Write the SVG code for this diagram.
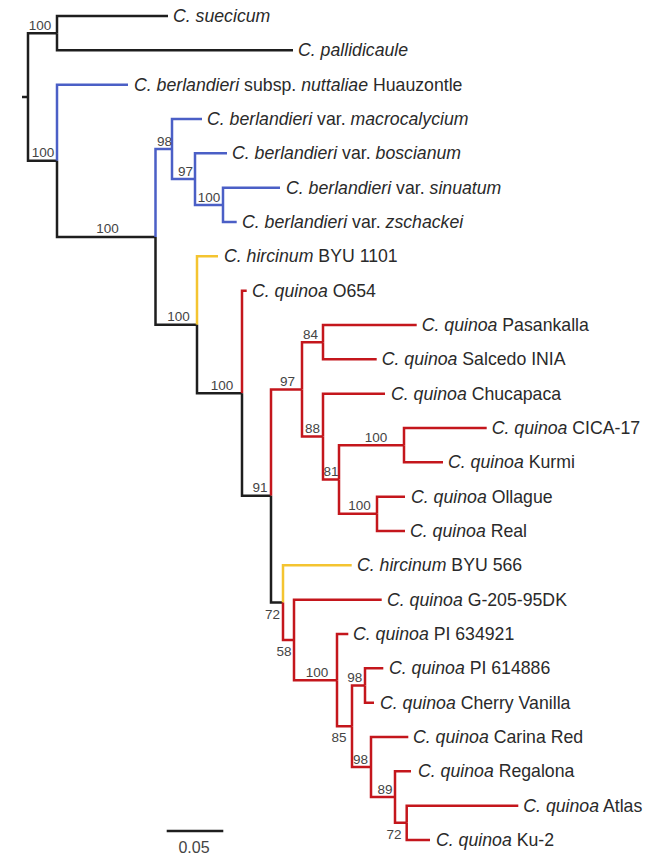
<svg xmlns="http://www.w3.org/2000/svg" width="648" height="864" viewBox="0 0 648 864">
<style>
.b{fill:none;stroke-width:2.5;stroke-linejoin:miter}
.k{stroke:#1e1e1e}.u{stroke:#4b5fc6}.y{stroke:#f4c430}.r{stroke:#c4161c}
.t{font-family:"Liberation Sans",Arial,Helvetica,sans-serif;font-size:17.7px;fill:#2a2a2a}
.bs{font-family:"Liberation Sans",Arial,Helvetica,sans-serif;font-size:13.5px;fill:#444;text-anchor:middle}
</style>
<rect width="648" height="864" fill="#fff"/>
<g id="connectors">
<path class="b k" d="M22,97H28"/>
<path class="b k" d="M28,97V33.2H57"/>
<path class="b k" d="M28,97V160.8H57"/>
<path class="b k" d="M57,33.2V16H168"/>
<path class="b k" d="M57,33.2V50.3H293"/>
<path class="b u" d="M57,160.8V84.7H128"/>
<path class="b k" d="M57,160.8V236.9H155.5"/>
<path class="b u" d="M155.5,236.9V149H172"/>
<path class="b k" d="M155.5,236.9V324.8H197"/>
<path class="b u" d="M172,149V119H202"/>
<path class="b u" d="M172,149V179H195"/>
<path class="b u" d="M195,179V153.3H227"/>
<path class="b u" d="M195,179V205H223"/>
<path class="b u" d="M223,205V187.7H280"/>
<path class="b u" d="M223,205V222H236.7"/>
<path class="b y" d="M197,324.8V256.3H218"/>
<path class="b k" d="M197,324.8V393.2H242"/>
<path class="b r" d="M242,393.2V290.7H246.7"/>
<path class="b k" d="M242,393.2V495.7H271"/>
<path class="b r" d="M271,495.7V389.4H302"/>
<path class="b k" d="M271,495.7V602.5H283"/>
<path class="b r" d="M302,389.4V342.2H323"/>
<path class="b r" d="M302,389.4V436.6H323"/>
<path class="b r" d="M323,342.2V325H416.7"/>
<path class="b r" d="M323,342.2V359.3H376.7"/>
<path class="b r" d="M323,436.6V393.7H385"/>
<path class="b r" d="M323,436.6V479.5H339"/>
<path class="b r" d="M339,479.5V445.2H404"/>
<path class="b r" d="M339,479.5V513.8H377"/>
<path class="b r" d="M404,445.2V428H486.7"/>
<path class="b r" d="M404,445.2V462.3H443"/>
<path class="b r" d="M377,513.8V496.7H405"/>
<path class="b r" d="M377,513.8V531H405"/>
<path class="b y" d="M283,602.5V565.3H351.7"/>
<path class="b r" d="M283,602.5V639.9H294"/>
<path class="b r" d="M294,639.9V599.7H381.7"/>
<path class="b r" d="M294,639.9V680.2H337"/>
<path class="b r" d="M337,680.2V634H348.3"/>
<path class="b r" d="M337,680.2V726.3H352"/>
<path class="b r" d="M352,726.3V685.5H365"/>
<path class="b r" d="M352,726.3V767H371"/>
<path class="b r" d="M365,685.5V668.3H383.3"/>
<path class="b r" d="M365,685.5V702.7H374"/>
<path class="b r" d="M371,767V737H408.3"/>
<path class="b r" d="M371,767V797H395"/>
<path class="b r" d="M395,797V771.3H411"/>
<path class="b r" d="M395,797V822.8H406.7"/>
<path class="b r" d="M406.7,822.8V805.7H518.3"/>
<path class="b r" d="M406.7,822.8V840H430"/>
</g>
<g id="taxa">
<g id="suecicum"><text class="t" x="173" y="22"><tspan font-style="italic">C. suecicum</tspan></text></g>
<g id="pallidicaule"><text class="t" x="298" y="56.3"><tspan font-style="italic">C. pallidicaule</tspan></text></g>
<g id="huauzontle"><text class="t" x="134" y="90.7"><tspan font-style="italic">C. berlandieri</tspan> subsp. <tspan font-style="italic">nuttaliae</tspan> Huauzontle</text></g>
<g id="macrocalycium"><text class="t" x="207" y="125"><tspan font-style="italic">C. berlandieri</tspan> var. <tspan font-style="italic">macrocalycium</tspan></text></g>
<g id="boscianum"><text class="t" x="232" y="159.3"><tspan font-style="italic">C. berlandieri</tspan> var. <tspan font-style="italic">boscianum</tspan></text></g>
<g id="sinuatum"><text class="t" x="286" y="193.7"><tspan font-style="italic">C. berlandieri</tspan> var. <tspan font-style="italic">sinuatum</tspan></text></g>
<g id="zschackei"><text class="t" x="242" y="228"><tspan font-style="italic">C. berlandieri</tspan> var. <tspan font-style="italic">zschackei</tspan></text></g>
<g id="hircinum1101"><text class="t" x="224" y="262.3"><tspan font-style="italic">C. hircinum</tspan> BYU 1101</text></g>
<g id="o654"><text class="t" x="252" y="296.7"><tspan font-style="italic">C. quinoa</tspan> O654</text></g>
<g id="pasankalla"><text class="t" x="421.7" y="331"><tspan font-style="italic">C. quinoa</tspan> Pasankalla</text></g>
<g id="salcedo"><text class="t" x="381.7" y="365.3"><tspan font-style="italic">C. quinoa</tspan> Salcedo INIA</text></g>
<g id="chucapaca"><text class="t" x="391" y="399.7"><tspan font-style="italic">C. quinoa</tspan> Chucapaca</text></g>
<g id="cica17"><text class="t" x="491.7" y="434"><tspan font-style="italic">C. quinoa</tspan> CICA-17</text></g>
<g id="kurmi"><text class="t" x="448" y="468.3"><tspan font-style="italic">C. quinoa</tspan> Kurmi</text></g>
<g id="ollague"><text class="t" x="411" y="502.7"><tspan font-style="italic">C. quinoa</tspan> Ollague</text></g>
<g id="real"><text class="t" x="410" y="537"><tspan font-style="italic">C. quinoa</tspan> Real</text></g>
<g id="hircinum566"><text class="t" x="357" y="571.3"><tspan font-style="italic">C. hircinum</tspan> BYU 566</text></g>
<g id="g20595dk"><text class="t" x="387" y="605.7"><tspan font-style="italic">C. quinoa</tspan> G-205-95DK</text></g>
<g id="pi634921"><text class="t" x="353" y="640"><tspan font-style="italic">C. quinoa</tspan> PI 634921</text></g>
<g id="pi614886"><text class="t" x="389" y="674.3"><tspan font-style="italic">C. quinoa</tspan> PI 614886</text></g>
<g id="cherryvanilla"><text class="t" x="380" y="708.7"><tspan font-style="italic">C. quinoa</tspan> Cherry Vanilla</text></g>
<g id="carinared"><text class="t" x="413" y="743"><tspan font-style="italic">C. quinoa</tspan> Carina Red</text></g>
<g id="regalona"><text class="t" x="418" y="777.3"><tspan font-style="italic">C. quinoa</tspan> Regalona</text></g>
<g id="atlas"><text class="t" x="523.3" y="811.7"><tspan font-style="italic">C. quinoa</tspan> Atlas</text></g>
<g id="ku2"><text class="t" x="436" y="846"><tspan font-style="italic">C. quinoa</tspan> Ku-2</text></g>
</g>
<g id="support">
<g id="n_a"><text class="bs" x="40" y="29.7">100</text></g>
<g id="n_h"><text class="bs" x="43" y="157.3">100</text></g>
<g id="n_b"><text class="bs" x="107.5" y="233.4">100</text></g>
<g id="n_98top"><text class="bs" x="164.5" y="145.5">98</text></g>
<g id="n_97top"><text class="bs" x="185.5" y="175.5">97</text></g>
<g id="n_sin"><text class="bs" x="209" y="201.5">100</text></g>
<g id="n_c"><text class="bs" x="178.5" y="321.3">100</text></g>
<g id="n_d"><text class="bs" x="222" y="389.7">100</text></g>
<g id="n_e"><text class="bs" x="260" y="492.2">91</text></g>
<g id="n_f"><text class="bs" x="287.5" y="385.9">97</text></g>
<g id="n_84"><text class="bs" x="310.5" y="338.7">84</text></g>
<g id="n_88"><text class="bs" x="312.5" y="433.1">88</text></g>
<g id="n_81"><text class="bs" x="331" y="476">81</text></g>
<g id="n_cica"><text class="bs" x="376" y="441.7">100</text></g>
<g id="n_oll"><text class="bs" x="359.5" y="510.3">100</text></g>
<g id="n_g"><text class="bs" x="272.5" y="618.5">72</text></g>
<g id="n_58"><text class="bs" x="284" y="656">58</text></g>
<g id="n_100c"><text class="bs" x="317" y="676.7">100</text></g>
<g id="n_85"><text class="bs" x="339" y="742">85</text></g>
<g id="n_98a"><text class="bs" x="354.7" y="682">98</text></g>
<g id="n_98b"><text class="bs" x="360.5" y="763.5">98</text></g>
<g id="n_89"><text class="bs" x="385" y="793.5">89</text></g>
<g id="n_72b"><text class="bs" x="394" y="839">72</text></g>
</g>
<g id="scalebar">
<path class="b k" d="M166.7,831H223.3"/>
<text x="194" y="853" style="font-family:'Liberation Sans',Arial,Helvetica,sans-serif;font-size:16px;fill:#444;text-anchor:middle">0.05</text>
</g>
</svg>
